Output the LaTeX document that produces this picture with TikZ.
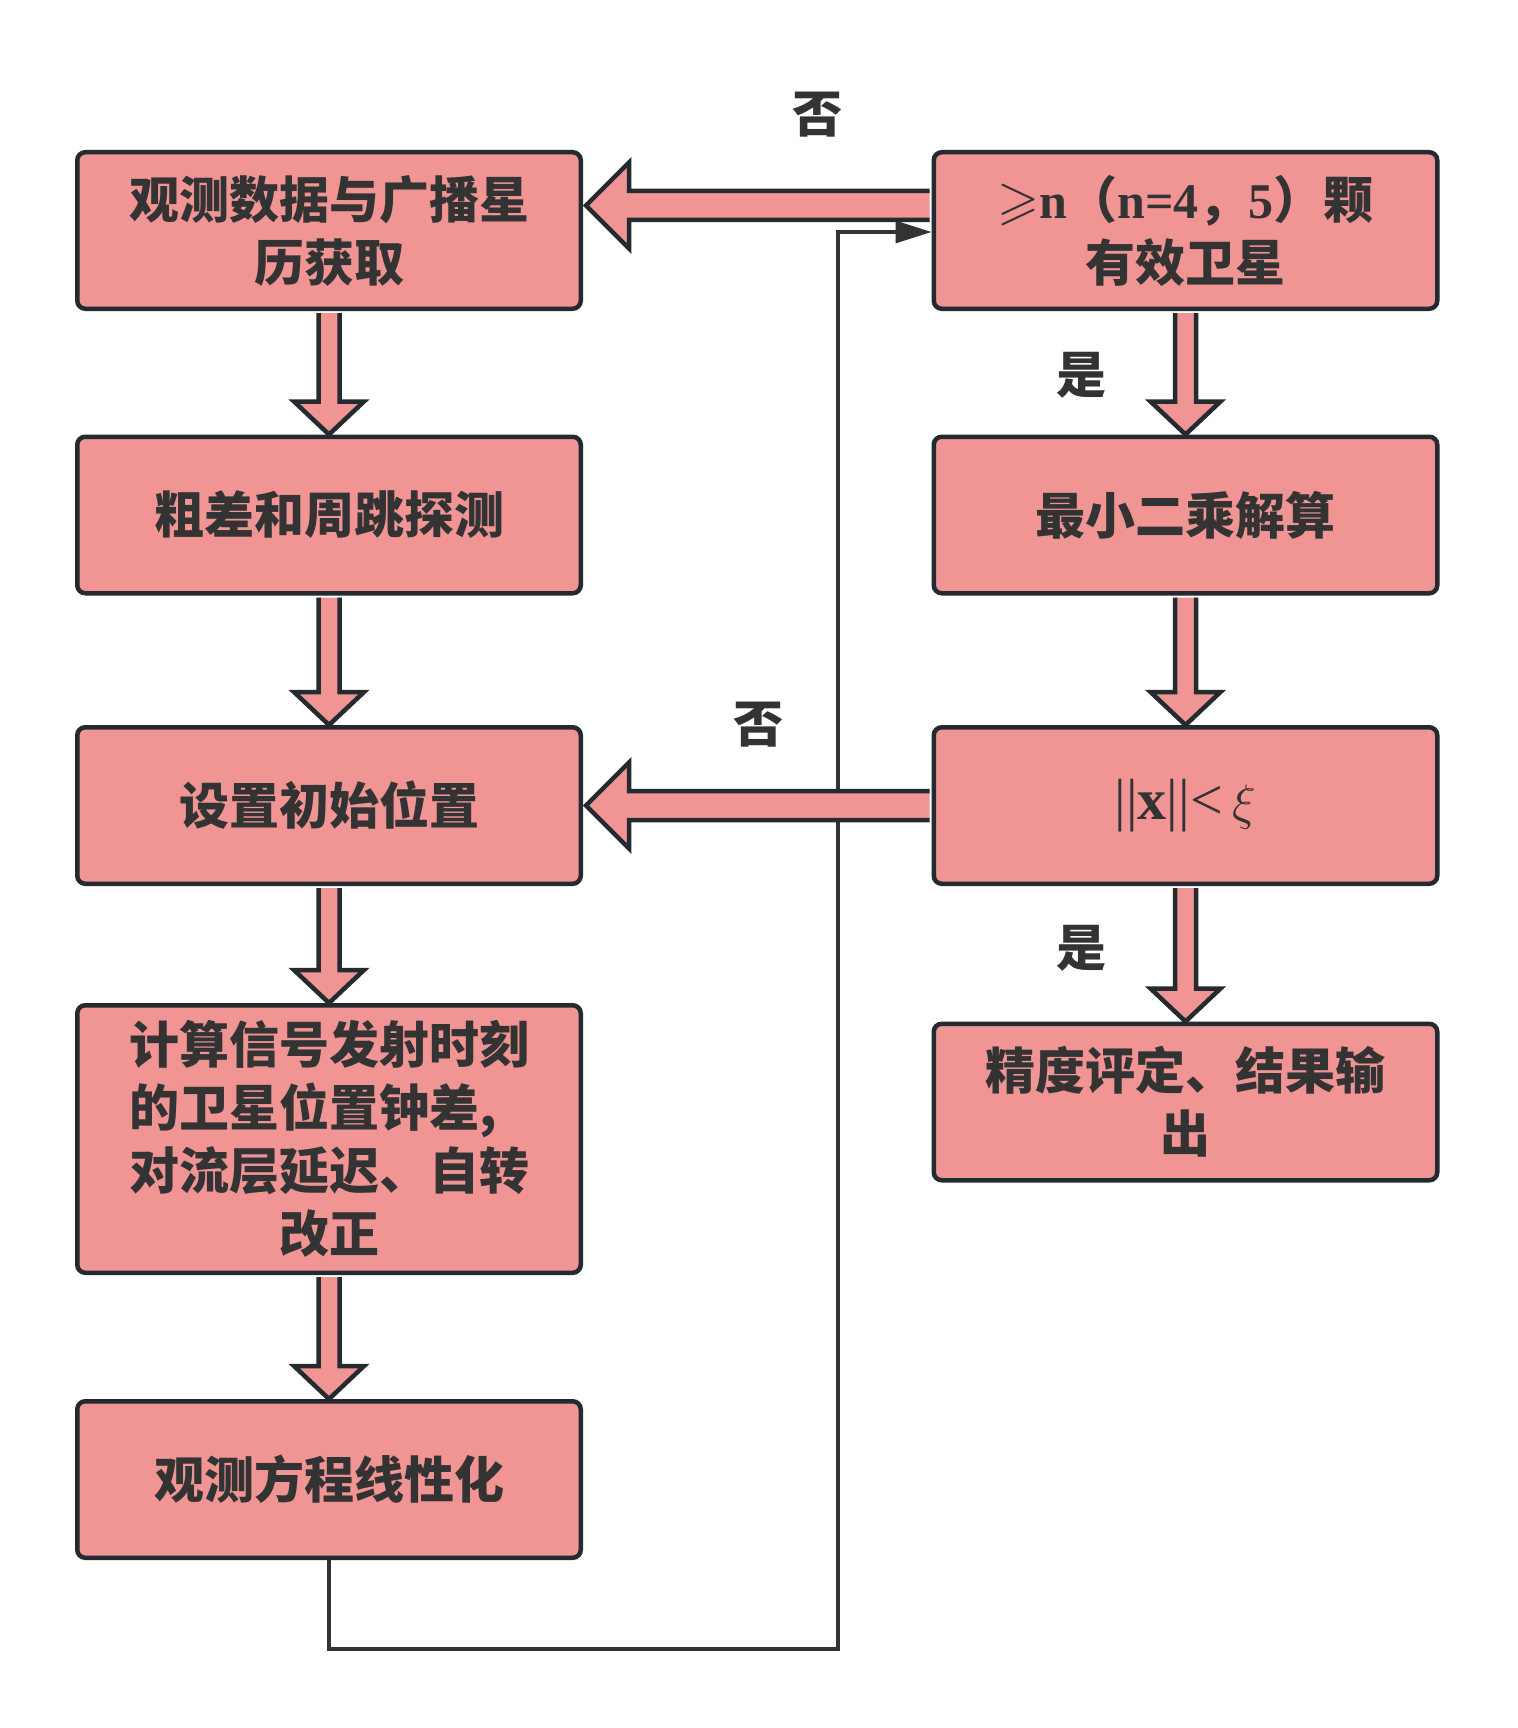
\documentclass[tikz,border=0pt]{standalone}
\usepackage{fontspec}
\usepackage{amssymb}
\setmainfont{Liberation Serif}
\newfontfamily\cjk{Noto Sans CJK SC}
\usetikzlibrary{calc,arrows.meta}
\definecolor{boxfill}{RGB}{240,148,148}
\definecolor{boxline}{RGB}{35,42,48}
\definecolor{txt}{RGB}{51,51,51}
\tikzset{
  box/.style={draw=boxline, line width=2.25pt, fill=boxfill, rounded corners=4pt,
    minimum width=251.75pt, minimum height=78.25pt, inner sep=0pt, align=center,
    text=txt, font=\fontsize{25}{31.5}\selectfont\cjk\bfseries},
  tallbox/.style={box, minimum height=133.75pt},
  barrow/.style={draw=boxline, line width=2.25pt, fill=boxfill, line join=miter},
  thinline/.style={draw=txt, line width=1.6pt},
  lbl/.style={text=txt, inner sep=0pt, font=\fontsize{25}{30}\selectfont\cjk\bfseries}
}
\newcommand\blkdown[2]{%
  \draw[barrow] ($(#1.south)+(-10.5,2)$) -- ($(#2.north)+(-10.5,-33)$) -- ($(#2.north)+(-35,-33)$)
    -- (#2.north) -- ($(#2.north)+(35,-33)$) -- ($(#2.north)+(10.5,-33)$) -- ($(#1.south)+(10.5,2)$);}
\newcommand\blkleft[3]{%
  \draw[barrow] ($(#1.west)+(-2,#3-14.5)$) -- ($(#2.east)+(46,#3-14.5)$) -- ($(#2.east)+(46,#3-43)$)
    -- ($(#2.east)+(3,#3)$) -- ($(#2.east)+(46,#3+43)$) -- ($(#2.east)+(46,#3+14.5)$) -- ($(#1.west)+(-2,#3+14.5)$);}
\newcommand\latn[1]{{\rmfamily\bfseries #1}}
\begin{document}
\begin{tikzpicture}[x=0.5pt,y=-0.5pt]
\useasboundingbox (0,0) rectangle (1518,1728);
% left column
\node[box] (L1) at (329,230.5) {观测数据与广播星\\历获取};
\node[box] (L2) at (329,515) {粗差和周跳探测};
\node[box] (L3) at (329,805.5) {设置初始位置};
\node[tallbox] (L4) at (329,1139) {计算信号发射时刻\\\makebox[200pt][l]{的卫星位置钟差,}\\对流层延迟、自转\\改正};
\node[box] (L5) at (329,1479.5) {观测方程线性化};
% right column
\node[box] (R1) at (1185.5,230.5) {{\fontsize{27}{31.5}\selectfont\rmfamily\mdseries$\geqslant$}\latn{n}（\latn{n=4}，\latn{5}）颗\\有效卫星};
\node[box] (R2) at (1185.5,515) {最小二乘解算};
\node[box] (R3) at (1185.5,805.5) {\fontsize{29}{31.5}\selectfont\rmfamily\mdseries ||\textbf{x}||<\,$\xi$};
\node[box] (R4) at (1185.5,1102) {精度评定、结果输\\出};
% feedback line
\coordinate (c1) at (838,1649);
\coordinate (c2) at (838,232);
\draw[thinline, -{Triangle[length=18pt,width=11pt]}] (L5.south) |- (c1) -- (c2) -- (c2 -| R1.west);
% block arrows
\blkdown{L1}{L2}
\blkdown{L2}{L3}
\blkdown{L3}{L4}
\blkdown{L4}{L5}
\blkdown{R1}{R2}
\blkdown{R2}{R3}
\blkdown{R3}{R4}
\blkleft{R1}{L1}{-25}
\blkleft{R3}{L3}{0}
% labels
\node[lbl] (no1) at (817,115) {否};
\node[lbl] (no2) at (758,725) {否};
\node[lbl] (yes1) at (1081,375) {是};
\node[lbl] (yes2) at (1081,948) {是};
\end{tikzpicture}
\end{document}
